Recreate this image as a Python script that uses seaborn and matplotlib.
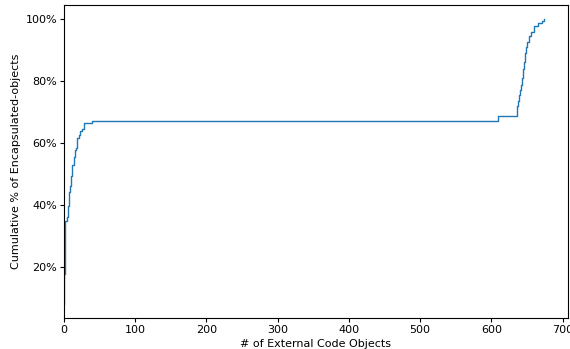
import matplotlib
matplotlib.use("Agg")
import matplotlib.pyplot as plt
from matplotlib.ticker import PercentFormatter
import seaborn as sns
import pandas as pd

# Number of external code objects and cumulative share of encapsulated objects
external_objects = [0, 0, 1, 2, 4, 6, 7, 8, 10, 12, 14, 15, 17, 19, 21, 23, 26,
                    29, 33, 39, 609, 636, 638, 639, 641, 642, 643, 645, 646,
                    648, 649, 650, 653, 656, 660, 666, 671, 674]
cumulative_pct = [7.9, 17.6, 30.0, 34.8, 36.0, 39.7, 44.0, 46.2, 49.4, 53.0,
                  55.3, 57.6, 58.5, 61.5, 62.5, 63.8, 64.5, 66.3, 66.3, 67.0,
                  68.7, 71.9, 73.5, 75.4, 77.0, 78.7, 81.0, 84.0, 86.0, 89.0,
                  91.0, 92.6, 94.4, 96.0, 97.9, 98.8, 99.5, 100.0]

df = pd.DataFrame({"objects": external_objects, "pct": cumulative_pct})

plt.rcParams.update({
    "font.size": 8,
    "xtick.major.size": 2.8,
    "ytick.major.size": 2.8,
    "xtick.major.pad": 2,
    "ytick.major.pad": 2,
    "axes.linewidth": 0.8,
})

fig = plt.figure(figsize=(5.7, 3.49), dpi=100)
ax = fig.add_axes([0.112, 0.088, 0.8845, 0.898])

sns.lineplot(data=df, x="objects", y="pct", estimator=None, sort=False,
             drawstyle="steps-post", color="#1f77b4", linewidth=1.0, ax=ax)

ax.set_xlim(left=0)
ax.set_xticks(range(0, 701, 100))
ax.set_yticks([20, 40, 60, 80, 100])
ax.yaxis.set_major_formatter(PercentFormatter(xmax=100, decimals=0))
ax.set_xlabel("# of External Code Objects", labelpad=3)
ax.set_ylabel("Cumulative % of Encapsulated-objects", labelpad=3)

fig.savefig("out.png", dpi=100)
